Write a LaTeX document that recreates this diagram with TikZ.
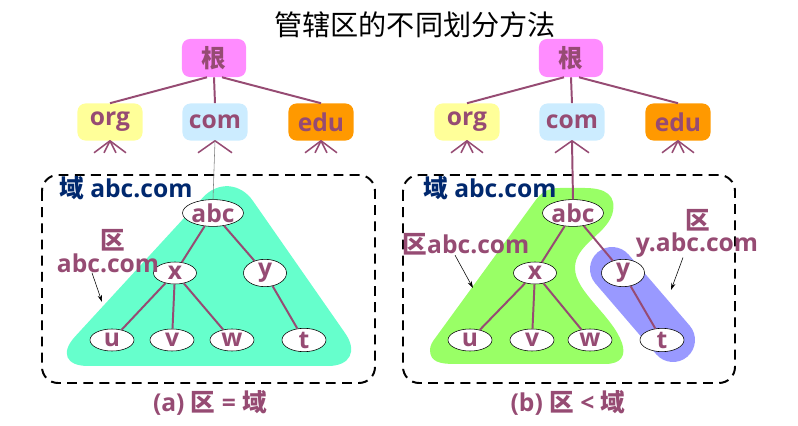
\documentclass[tikz,border=0pt]{standalone}
\usepackage{fontspec}
\setmainfont{Open Sans}
\newfontfamily\cjk{Noto Sans CJK SC}
\newfontfamily\cjkb{Noto Sans CJK SC Bold}
\newcommand{\zh}[1]{{\cjkb #1}}
\usetikzlibrary{positioning,calc,shapes.geometric,arrows.meta}
\definecolor{NameRed}{RGB}{150,75,115}
\definecolor{DomBlue}{RGB}{0,40,110}
\definecolor{RootPink}{RGB}{255,140,255}
\definecolor{OrgYellow}{RGB}{255,255,153}
\definecolor{ComBlue}{RGB}{204,236,255}
\definecolor{EduOrange}{RGB}{255,153,0}
\definecolor{ZoneMint}{RGB}{102,255,204}
\definecolor{ZoneGreen}{RGB}{153,255,102}
\definecolor{ZoneViolet}{RGB}{153,153,255}

\begin{document}
\begin{tikzpicture}[x=0.025cm, y=-0.025cm,
    % chữ và các hộp
    bigfont/.style={font=\fontsize{17.5}{20}\selectfont\bfseries},
    tldbox/.style={rectangle, rounded corners=0.2cm, minimum width=1.625cm, minimum height=0.925cm, inner sep=0pt, text=NameRed, bigfont},
    hostnode/.style={ellipse, draw=black, thin, fill=white, text=NameRed, minimum width=1.1cm, minimum height=0.55cm, inner sep=0pt, bigfont},
    % cạnh
    treeedge/.style={draw=NameRed, line width=1.4pt},
    fanedge/.style={draw=NameRed, line width=1.1pt},
    pointer/.style={-{Stealth[length=5pt,width=3pt]}, draw=black, thin},
    domainbox/.style={draw=black, line width=1.4pt, dash pattern=on 7pt off 4.5pt, rounded corners=0.4cm},
    % nhãn
    zonelbl/.style={text=NameRed, bigfont, inner sep=0pt},
    domlbl/.style={text=DomBlue, bigfont, inner sep=0pt, anchor=west}
]
\useasboundingbox (0,0) rectangle (798,426);

\node[font=\fontsize{20}{24}\selectfont\cjk] (title) at (415,25) {管辖区的不同划分方法};

% --- VÙNG (a) ---
\draw[domainbox] (42,175) rectangle (375,383);
\fill[ZoneMint, rounded corners=1cm] (230,168) -- (368,366) -- (48,366) -- cycle;

% --- VÙNG (b) ---
\draw[domainbox] (403,175) rectangle (735,383);
\fill[ZoneGreen] (430,350) .. controls (430,362) and (440,364) .. (455,364) -- (605,364)
    .. controls (622,364) and (626,355) .. (622,343) .. controls (612,315) and (575,292) .. (575,268)
    .. controls (575,245) and (605,235) .. (612,215) .. controls (618,195) and (605,188) .. (585,188)
    -- (560,188) .. controls (547,188) and (541,193) .. (535,201) -- (436,337)
    .. controls (432,342) and (430,346) .. (430,350) -- cycle;
\draw[ZoneViolet, line width=1.1cm, line cap=round] (612,269) -- (673,340);

% --- CÂY (a) ---
\node[tldbox, fill=RootPink, minimum width=1.6cm, minimum height=0.95cm] (rootL) at (214,58) {\zh{根}};
\node[tldbox, fill=OrgYellow] (orgL) at (110,122) {org};
\node[tldbox, fill=ComBlue] (comL) at (215,122) {com};
\node[tldbox, fill=EduOrange] (eduL) at (321,122) {edu};

\node[hostnode, minimum width=1.3cm, minimum height=0.6cm] (abcL) at (213,213) {abc};
\node[hostnode, minimum width=1.075cm] (xL) at (175,273) {x};
\node[hostnode, minimum width=1.075cm] (yL) at (265,273) {y};
\node[hostnode] (uL) at (112,340) {u};
\node[hostnode] (vL) at (172,340) {v};
\node[hostnode] (wL) at (232,340) {w};
\node[hostnode] (tL) at (304,340) {t};

\draw[treeedge] ([xshift=-0.175cm]rootL.south) -- (orgL.north);
\draw[treeedge] (rootL.south) -- (comL.north);
\draw[treeedge] ([xshift=0.2cm]rootL.south) -- (eduL.north);
\foreach \dx in {-16,-6,6,16} {
    \draw[fanedge] (orgL.south) -- ++(\dx,12);
    \draw[fanedge] (eduL.south) -- ++(\dx,12);
}
\foreach \dx in {-17,17} \draw[fanedge] (comL.south) -- ++(\dx,12);
\draw[gray, thin] (comL.south) -- (abcL.north);

\draw[treeedge] (abcL) -- (xL); \draw[treeedge] (abcL) -- (yL);
\draw[treeedge] (xL) -- (uL); \draw[treeedge] (xL) -- (vL); \draw[treeedge] (xL) -- (wL);
\draw[treeedge] (yL) -- (tL);

% --- CÂY (b) ---
\node[tldbox, fill=RootPink, minimum width=1.6cm, minimum height=0.95cm] (rootR) at (571,58) {\zh{根}};
\node[tldbox, fill=OrgYellow] (orgR) at (467,122) {org};
\node[tldbox, fill=ComBlue] (comR) at (572,122) {com};
\node[tldbox, fill=EduOrange] (eduR) at (678,122) {edu};

\node[hostnode, minimum width=1.3cm, minimum height=0.6cm] (abcR) at (573,213) {abc};
\node[hostnode, minimum width=1.075cm] (xR) at (535,273) {x};
\node[hostnode, minimum width=1.075cm] (yR) at (623,273) {y};
\node[hostnode] (uR) at (470,340) {u};
\node[hostnode] (vR) at (532,340) {v};
\node[hostnode] (wR) at (590,340) {w};
\node[hostnode] (tR) at (662,340) {t};

\draw[treeedge] ([xshift=-0.175cm]rootR.south) -- (orgR.north);
\draw[treeedge] (rootR.south) -- (comR.north);
\draw[treeedge] ([xshift=0.2cm]rootR.south) -- (eduR.north);
\foreach \dx in {-16,-6,6,16} {
    \draw[fanedge] (orgR.south) -- ++(\dx,12);
    \draw[fanedge] (eduR.south) -- ++(\dx,12);
}
\foreach \dx in {-17,17} \draw[fanedge] (comR.south) -- ++(\dx,12);
\draw[treeedge] (comR.south) -- (abcR.north);

\draw[treeedge] (abcR) -- (xR); \draw[treeedge] (abcR) -- (yR);
\draw[treeedge] (xR) -- (uR); \draw[treeedge] (xR) -- (vR); \draw[treeedge] (xR) -- (wR);
\draw[treeedge] (yR) -- (tR);

% --- NHÃN ---
\node[domlbl] (domL) at (59,188) {\zh{域} abc.com};
\node[domlbl] (domR) at (423,188) {\zh{域} abc.com};

\node[zonelbl] (zoneLa) at (113,240) {\zh{区}};
\node[zonelbl] (zoneLb) at (108,263) {abc.com};
\coordinate (mintEdge) at (102,302);
\draw[pointer] ([xshift=-0.4cm]zoneLb.south) -- (mintEdge);

\node[zonelbl] (zoneRa) at (466,244) {\zh{区}abc.com};
\coordinate (greenEdge) at (473,288);
\draw[pointer] ([xshift=-0.275cm]zoneRa.south) -- (greenEdge);

\node[zonelbl] (zoneRc) at (698,220) {\zh{区}};
\node[zonelbl] (zoneRd) at (697,245) {y.abc.com};
\coordinate (violetEdge) at (671,290);
\draw[pointer] ([xshift=-0.35cm]zoneRd.south) -- (violetEdge);

\node[zonelbl] (capL) at (210,403) {(a) \zh{区} = \zh{域}};
\node[zonelbl] (capR) at (568,403) {(b) \zh{区} < \zh{域}};

\end{tikzpicture}
\end{document}
